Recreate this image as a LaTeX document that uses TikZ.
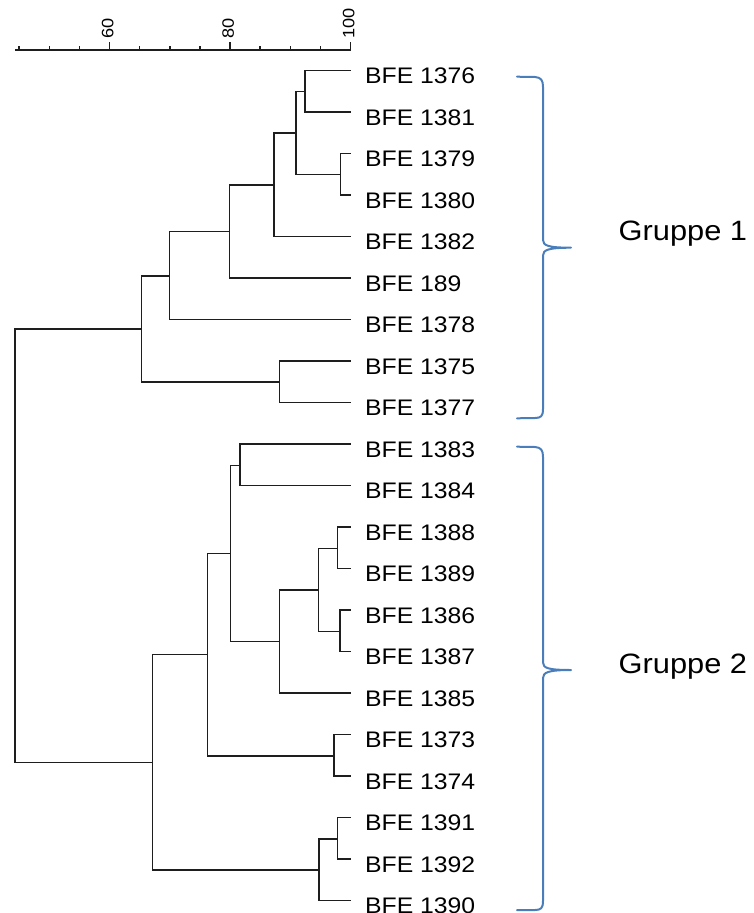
\documentclass[tikz,border=0pt]{standalone}
\usepackage{fontspec}
\setmainfont{Liberation Sans}[FakeStretch=1.1]
\usetikzlibrary{calc}
\definecolor{branchcol}{HTML}{1E1E1E}
\definecolor{bracecol}{HTML}{4A7EBB}
\tikzset{
  branch/.style={draw=branchcol, line width=1.45pt},
  leaflabel/.style={anchor=base west, inner sep=0pt, font=\fontsize{22.5}{26}\selectfont},
  grouplabel/.style={anchor=base west, inner sep=0pt, font=\fontsize{28}{32}\selectfont},
  ticklabel/.style={anchor=base west, rotate=90, inner sep=0pt, font=\fontsize{16.5}{18}\selectfont},
  groupbrace/.style={draw=bracecol, line width=2pt, line join=round, line cap=round},
}
\begin{document}
\begin{tikzpicture}[x=1pt,y=-1pt]
\useasboundingbox (0,0) rectangle (753,913);

% similarity scale
\coordinate (axL) at (15,50);
\coordinate (axR) at (350.5,50);
\draw[branch] (axL) -- (axR);
\foreach \k in {0,...,11}{
  \draw[branch] ({350.5-30.12*\k},50) -- ++(0,-4);
}
\foreach \v/\x in {60/109.5, 80/230, 100/350.5}{
  \draw[branch] (\x,50) -- ++(0,-8);
  \node[ticklabel] at (\x+3.8,39) {\v};
}

% leaves
\foreach \i/\name in {0/BFE 1376, 1/BFE 1381, 2/BFE 1379, 3/BFE 1380, 4/BFE 1382,
  5/BFE 189, 6/BFE 1378, 7/BFE 1375, 8/BFE 1377, 9/BFE 1383, 10/BFE 1384,
  11/BFE 1388, 12/BFE 1389, 13/BFE 1386, 14/BFE 1387, 15/BFE 1385,
  16/BFE 1373, 17/BFE 1374, 18/BFE 1391, 19/BFE 1392, 20/BFE 1390}{
  \coordinate (l\i) at (350.7,{70.7+41.5*\i});
  \node[leaflabel] (t\i) at ($(l\i)+(14.3,13)$) {\name};
}

% internal nodes (x = similarity level, y = midpoint of children)
\coordinate (nA) at (305,91.45);
\coordinate (nB) at (340.7,174.55);
\coordinate (nC) at (296,133.0);
\coordinate (nD) at (274,184.9);
\coordinate (nE) at (229.3,231.65);
\coordinate (nF) at (169.3,275.8);
\coordinate (nG) at (279.3,382.2);
\coordinate (nH) at (141.7,329.0);
\coordinate (nI) at (240,465.25);
\coordinate (nJ) at (337.3,548.3);
\coordinate (nK) at (340,631.35);
\coordinate (nL) at (318.3,589.8);
\coordinate (nM) at (279.3,641.75);
\coordinate (nN) at (230.7,553.5);
\coordinate (nO) at (334,755.95);
\coordinate (nP) at (207.3,654.7);
\coordinate (nQ) at (337.3,839.0);
\coordinate (nR) at (319,870.15);
\coordinate (nS) at (152.3,762.4);
\coordinate (nRoot) at (15,545.7);

% branches
\foreach \a/\n/\b in {l0/nA/l1, l2/nB/l3, nA/nC/nB, nC/nD/l4, nD/nE/l5,
  nE/nF/l6, l7/nG/l8, nF/nH/nG, l9/nI/l10, l11/nJ/l12, l13/nK/l14,
  nJ/nL/nK, nL/nM/l15, nI/nN/nM, l16/nO/l17, nN/nP/nO, l18/nQ/l19,
  nQ/nR/l20, nP/nS/nR, nH/nRoot/nS}{
  \draw[branch] (\a) -| (\n) |- (\b);
}

% group braces
\coordinate (g1top) at (517,76.7);
\coordinate (g1tip) at (571,247.7);
\coordinate (g1bot) at (517,418.3);
\draw[groupbrace] (g1top) -- (535,77) .. controls (541,77.5) and (543,80) .. (543,87)
  -- (543,240) .. controls (543,245.5) and (548,247.7) .. (g1tip)
  .. controls (548,247.7) and (543,250) .. (543,255.5)
  -- (543,409) .. controls (543,416) and (541,418) .. (535,418) -- (g1bot);
\node[grouplabel] (grp1) at (618.5,240) {Gruppe 1};

\coordinate (g2top) at (517,446.7);
\coordinate (g2tip) at (571,670);
\coordinate (g2bot) at (517,910);
\draw[groupbrace] (g2top) -- (535,447) .. controls (541,447.5) and (543,450) .. (543,457)
  -- (543,662.5) .. controls (543,668) and (548,670) .. (g2tip)
  .. controls (548,670) and (543,672.5) .. (543,678)
  -- (543,901) .. controls (543,908) and (541,910) .. (535,910) -- (g2bot);
\node[grouplabel] (grp2) at (618.5,673) {Gruppe 2};
\end{tikzpicture}
\end{document}
